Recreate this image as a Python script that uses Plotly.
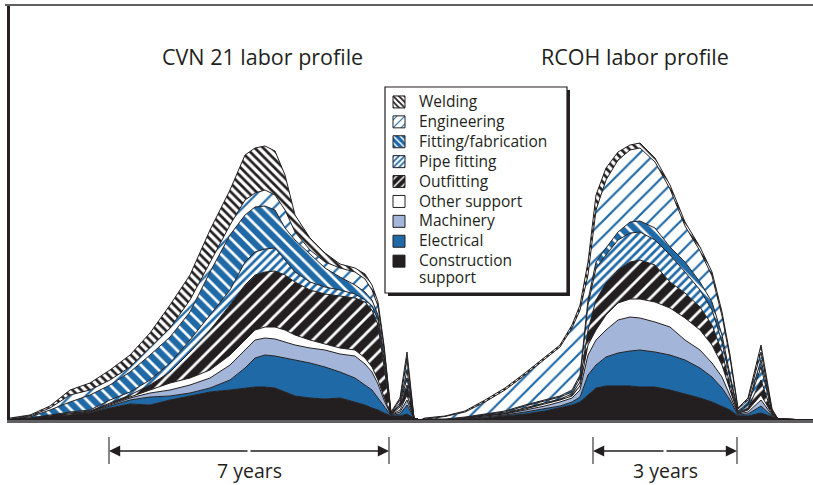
import plotly.graph_objects as go

# ---- data (time index, labor units) ----
time_index = [0, 20, 40, 60, 80, 100, 120, 140, 160, 180, 200, 220, 235, 245, 255, 265, 275, 285, 300, 315,
              330, 345, 355, 362, 368, 374, 381, 390, 397, 404, 410,
              415, 435, 455, 475, 495, 515, 535, 550, 562, 570, 578, 586, 596, 608, 620, 630, 645, 660, 675,
              690, 702, 712, 720, 728, 738, 751, 762, 768, 803]

construction_support = [1, 2, 4, 5, 7, 12, 16, 15, 20, 24, 28, 30, 32, 33, 33, 32, 28, 24, 22, 21,
                        22, 18, 15, 12, 10, 7, 4, 4, 6, 2, 0,
                        1, 1, 1, 2, 4, 6, 9, 12, 15, 18, 25, 32, 34, 34, 34, 33, 33, 30, 26,
                        22, 18, 14, 10, 4, 4, 7, 3, 1, 0]
electrical = [0, 0, 0, 0, 0, 2, 4, 8, 4, 3, 4, 10, 20, 29, 32, 32, 34, 36, 35, 32,
              26, 24, 20, 18, 12, 7, 0.5, 2, 9, 0, 0,
              0, 0, 0, 1, 1, 2, 2, 2, 3, 5, 20, 23, 29, 33, 35, 37, 35, 35, 34,
              30, 25, 18, 10, 1, 2, 7, 1, 0, 0]
machinery = [0, 0, 0, 0, 1, 1, 2, 4, 6, 8, 10, 15, 18, 18, 17, 17, 16, 15, 15, 17,
             18, 22, 21, 18, 14, 6, 0.5, 2, 5, 0, 0,
             0, 0, 0.5, 1, 1, 2, 3, 4, 4, 7, 20, 25, 27, 33, 34, 32, 30, 28, 20,
             18, 14, 11, 5, 1, 2, 6, 1, 0, 0]
other_support = [0, 0, 0, 1, 0, 1, 1, 3, 7, 7, 8, 10, 10, 10, 11, 12, 12, 10, 8, 6,
                 6, 6, 6, 5, 4, 3, 0, 2, 5, 0, 0,
                 0, 0, 0.5, 0.5, 0.5, 1, 2, 2, 2, 4, 10, 10, 15, 17, 18, 19, 20, 19, 22,
                 20, 18, 12, 5, 0.5, 2, 5, 1, 0, 0]
outfitting = [0, 0, 1, 1, 1, 1, 2, 5, 11, 26, 40, 50, 55, 55, 55, 56, 55, 53, 50, 50,
              52, 52, 56, 57, 55, 32, 0.5, 3, 10, 0, 0,
              0, 0, 0, 0.5, 0.5, 1, 1, 1, 2, 4, 15, 30, 32, 33, 37, 39, 37, 26, 25,
              23, 20, 13, 5, 0.5, 2, 15, 1, 0, 0]
pipe_fitting = [0, 0, 0, 1, 1, 3, 3, 5, 9, 12, 15, 15, 23, 23, 23, 23, 15, 10, 8, 7,
                6, 4, 2, 4, 5, 5, 0.5, 2, 7, 0, 0,
                0, 0, 0.5, 0.5, 1, 2, 2, 2, 2, 4, 25, 32, 28, 30, 29, 28, 25, 27, 21,
                17, 15, 10, 7, 1, 3, 13, 1, 0, 0]
fitting_fabrication = [0, 1, 5, 10, 15, 15, 20, 25, 26, 28, 43, 55, 47, 45, 43, 38, 32, 32, 28, 19,
                       13, 9, 8, 6, 5, 5, 0.5, 2, 8, 0, 0,
                       0, 0, 0.5, 0.5, 1, 1, 1, 1, 2, 3, 5, 6, 7, 8, 11, 11, 12, 8, 10,
                       8, 8, 7, 3, 1, 1, 7, 1, 0, 0]
engineering = [0, 1, 2, 7, 5, 5, 5, 7, 9, 12, 10, 10, 15, 14, 16, 15, 18, 8, 4, 6,
               9, 13, 13, 10, 9, 7, 0.5, 3, 10, 0, 0,
               0, 2.5, 5, 12, 21, 30, 41, 49, 62, 65, 25, 52, 68, 72, 72, 73, 66, 58, 36,
               31, 26, 19, 17, 2, 4, 8, 1, 0, 0]
welding = [1, 1, 2, 5, 7, 10, 12, 15, 23, 25, 32, 35, 45, 45, 44, 44, 35, 17, 12, 9,
           4, 4, 5, 5, 4, 3, 1, 2, 8, 0, 0,
           1, 0.5, 1, 2, 2, 2, 2, 2, 3, 5, 13, 15, 12, 8, 5, 5, 4, 4, 4,
           4, 4, 4, 3, 1, 2, 7, 1, 0, 0]

panel_titles = ["CVN 21 labor profile", "RCOH labor profile"]
panel_title_x = [252, 625]
span_labels = ["7 years", "3 years"]
span_starts = [99, 583]
span_ends = [379, 727]

# ---- styles ----
INK = "#231f20"
BLUE = "#1f69a6"
LIGHT = "#a3b5d8"
WHITE = "#ffffff"
GREY = "#606062"

series = [
    # name, values, bg, fg, shape, size, solidity
    ("Construction<br>support", construction_support, INK, None, "", 8, 0.3),
    ("Electrical", electrical, BLUE, None, "", 8, 0.3),
    ("Machinery", machinery, LIGHT, None, "", 8, 0.3),
    ("Other support", other_support, WHITE, None, "", 8, 0.3),
    ("Outfitting", outfitting, INK, WHITE, "/", 11, 0.25),
    ("Pipe fitting", pipe_fitting, WHITE, BLUE, "/", 6, 0.45),
    ("Fitting/fabrication", fitting_fabrication, BLUE, WHITE, "\\", 9, 0.3),
    ("Engineering", engineering, WHITE, BLUE, "/", 11, 0.2),
    ("Welding", welding, WHITE, INK, "\\", 6, 0.45),
]

fig = go.Figure()
for name, vals, bg, fg, shp, sz, sol in series:
    kw = {}
    if shp:
        kw["fillpattern"] = dict(shape=shp, fgcolor=fg, bgcolor=bg, size=sz,
                                 solidity=sol, fillmode="replace")
    fig.add_trace(go.Scatter(
        x=time_index, y=vals, name=name, stackgroup="labor", mode="lines",
        line=dict(color=INK, width=1), fillcolor=bg, showlegend=False,
        hoverinfo="skip", **kw))

# legend swatches (square, patterned) in legend order
for name, vals, bg, fg, shp, sz, sol in reversed(series):
    marker = dict(color=bg, line=dict(color=INK, width=1))
    if shp:
        marker["pattern"] = dict(shape=shp, fgcolor=fg, bgcolor=bg, size=max(sz // 2 + 2, 5),
                                 solidity=sol, fillmode="replace")
    label = "<br>".join("<span style='font-size:15.5px'>%s</span>" % part for part in name.split("<br>"))
    fig.add_trace(go.Bar(x=[None], y=[None], name=label, marker=marker,
                         showlegend=True, hoverinfo="skip"))

W, H = 813, 485
L, R, T, B = 10, 0, 5, 65
PW, PH = W - L - R, H - T - B


def px_x(px):
    return (px - L) / PW


def px_y(py):
    return (H - B - py) / PH


shapes = [
    # frame top line
    dict(type="line", xref="paper", yref="paper", x0=px_x(5), x1=px_x(813), y0=1.0, y1=1.0,
         line=dict(color=GREY, width=2), layer="above"),
    # legend shadow and box
    dict(type="rect", xref="paper", yref="paper", x0=px_x(388), x1=px_x(570), y0=px_y(296), y1=px_y(90),
         fillcolor=INK, line=dict(width=0), layer="above"),
    dict(type="rect", xref="paper", yref="paper", x0=px_x(385), x1=px_x(567), y0=px_y(293), y1=px_y(87),
         fillcolor=WHITE, line=dict(color=INK, width=1.2), layer="above"),
]

annotations = []
for t, cx in zip(panel_titles, panel_title_x):
    annotations.append(dict(text=t, x=cx, y=px_y(56), xref="x", yref="paper", showarrow=False,
                            font=dict(size=21.5, color=INK), xanchor="center", yanchor="middle"))

for lab, s0, s1 in zip(span_labels, span_starts, span_ends):
    mid = (s0 + s1) / 2
    half = (s1 - s0) / 2
    for xe in (s0, s1):
        shapes.append(dict(type="line", xref="x", yref="paper", x0=xe, x1=xe,
                           y0=px_y(464), y1=px_y(437), line=dict(color=GREY, width=1.5)))
    for xe, sgn in ((s0, 1), (s1, -1)):
        annotations.append(dict(text="", x=xe, y=px_y(451), xref="x", yref="paper",
                                showarrow=True, ax=sgn * half, ay=0, arrowhead=2,
                                arrowsize=1.6, arrowwidth=1.4, arrowcolor=INK))
    annotations.append(dict(text=lab, x=mid, y=px_y(470), xref="x", yref="paper", showarrow=False,
                            font=dict(size=19.5, color=INK), xanchor="center", yanchor="middle",
                            borderpad=0))

fig.update_layout(
    width=W, height=H,
    margin=dict(l=L, r=R, t=T, b=B),
    paper_bgcolor=WHITE, plot_bgcolor=WHITE,
    font=dict(family="Open Sans", color=INK),
    showlegend=True,
    legend=dict(x=px_x(379), y=px_y(87), xanchor="left", yanchor="top",
                bgcolor="rgba(0,0,0,0)", borderwidth=0, font=dict(size=13, color=INK),
                traceorder="normal", valign="top"),
    xaxis=dict(range=[0, 803], showgrid=False, zeroline=False, showticklabels=False, ticks="",
               showline=True, linecolor=GREY, linewidth=3, fixedrange=True),
    yaxis=dict(range=[0, 415], showgrid=False, zeroline=False, showticklabels=False, ticks="",
               showline=True, linecolor=INK, linewidth=3, fixedrange=True),
    shapes=shapes,
    annotations=annotations,
)

fig.write_html("out.html", config={"displayModeBar": False},
               post_script="document.body.style.margin='0';document.body.style.overflow='hidden';")
